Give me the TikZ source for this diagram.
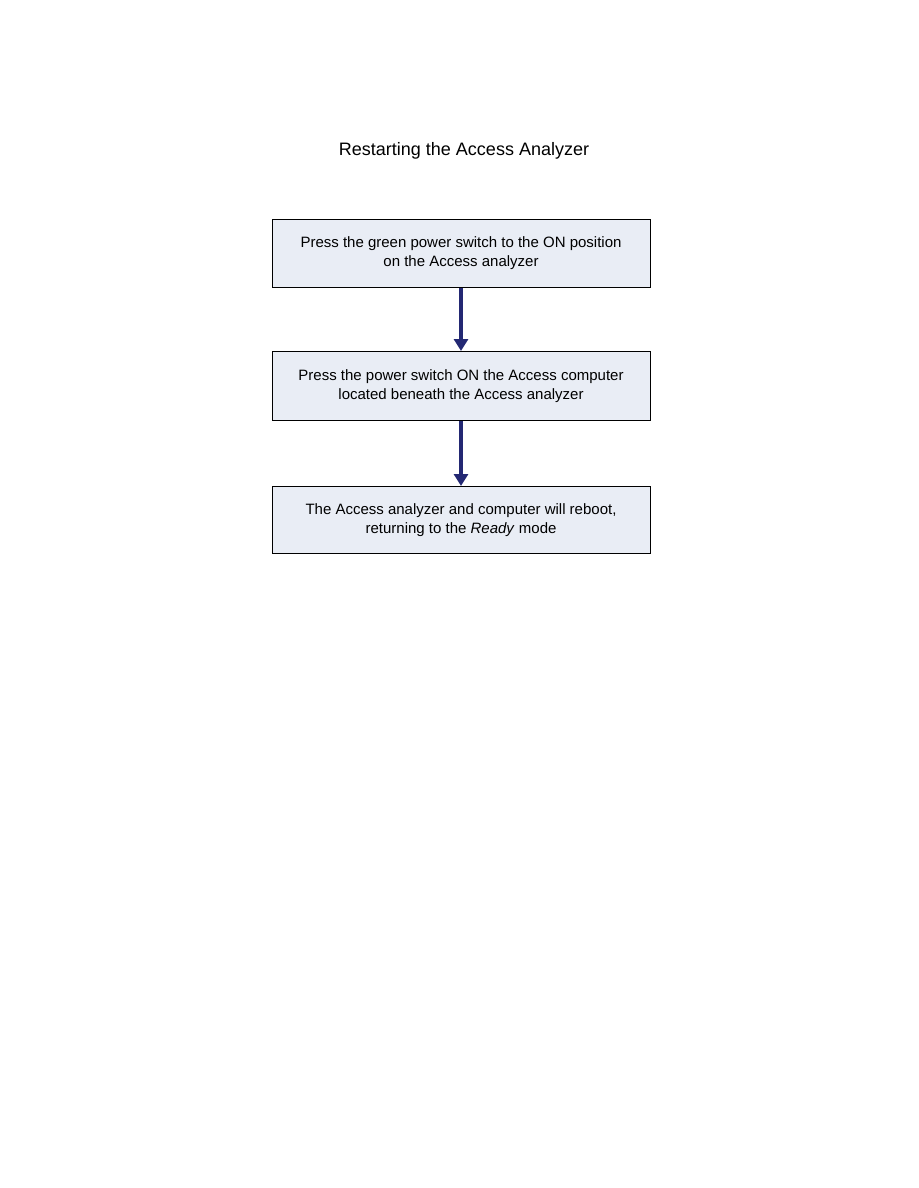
\documentclass[tikz,border=0pt]{standalone}
\usepackage{fontspec}
\setmainfont{Liberation Sans}
\usetikzlibrary{arrows.meta}
\definecolor{boxfill}{HTML}{E9EDF5}
\definecolor{arrowc}{HTML}{232873}
\tikzset{
  stepbox/.style={draw=black, line width=1pt, fill=boxfill, minimum width=378pt, minimum height=68pt, align=center, inner sep=0pt, font=\fontsize{15}{19}\selectfont},
  flow/.style={draw=arrowc, line width=3.8pt, -{Triangle[length=12pt,width=14pt]}, shorten >=0pt}
}
\begin{document}
\begin{tikzpicture}[x=1pt,y=-1pt]
\useasboundingbox (0,0) rectangle (918,1188);
\node (title) at (464,151) {\fontsize{18}{22}\selectfont Restarting the Access Analyzer};
\node[stepbox] (s1) at (461,253.5) {Press the green power switch to the ON position\\on the Access analyzer};
\node[stepbox, minimum height=69pt] (s2) at (461,386) {Press the power switch ON the Access computer\\located beneath the Access analyzer};
\node[stepbox, minimum height=67pt] (s3) at (461,520) {The Access analyzer and computer will reboot,\\returning to the \textit{Ready} mode};
\draw[flow] (s1.south) -- (s2.north);
\draw[flow] (s2.south) -- (s3.north);
\end{tikzpicture}
\end{document}
